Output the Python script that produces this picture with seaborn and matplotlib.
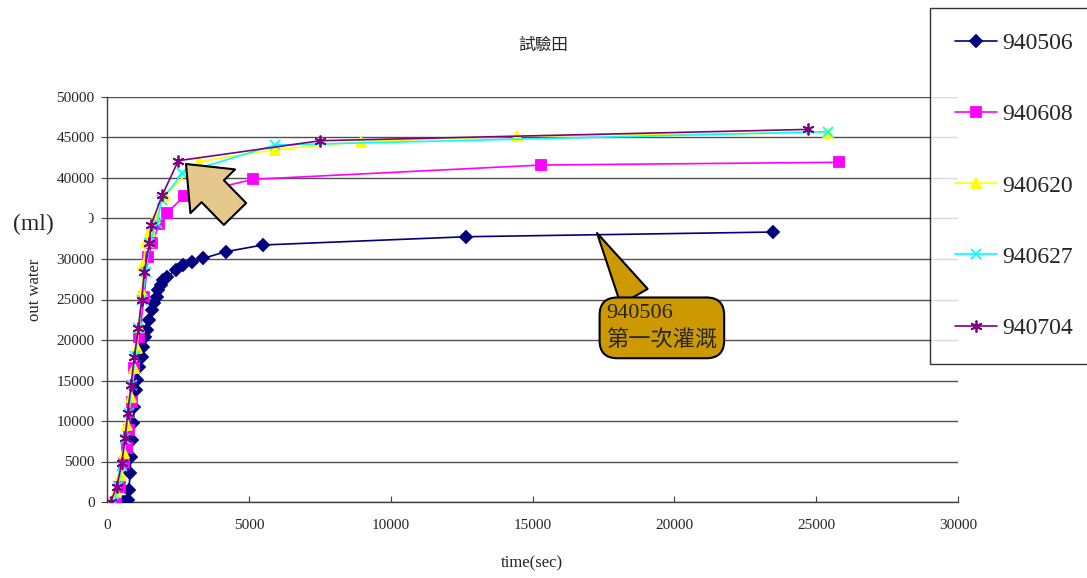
import matplotlib
matplotlib.use("Agg")
import matplotlib.pyplot as plt
import seaborn as sns
from matplotlib.patches import Rectangle

# irrigation runs (date labels) and their cumulative outflow
dates = ["940506", "940608", "940620", "940627", "940704"]

t_0506 = [560, 650, 730, 776, 811, 846, 881, 928, 963, 1011, 1058, 1128, 1222, 1280, 1340,
          1421, 1492, 1575, 1657, 1751, 1810, 1892, 1986, 2104, 2432, 2690, 2985, 3395,
          4183, 5490, 12670, 23480]
w_0506 = [0, 0, 200, 1480, 3540, 5600, 7650, 9710, 11770, 13830, 15060, 16700, 17940, 19180,
          20410, 21230, 22470, 23700, 24530, 25350, 26170, 26790, 27400, 27820, 28640,
          29260, 29590, 30080, 30900, 31730, 32750, 33330]

t_0608 = [330, 470, 590, 690, 776, 871, 963, 1140, 1305, 1457, 1598, 1833, 2127, 2725,
          5147, 15300, 25810]
w_0608 = [0, 1800, 4800, 6700, 8890, 12380, 16500, 20410, 25350, 30290, 31940, 34280,
          35720, 37780, 39840, 41600, 41940]

t_0620 = [180, 330, 480, 600, 720, 840, 950, 1046, 1128, 1222, 1280, 1364, 1520, 1692,
          2045, 3230, 5920, 8937, 14440, 25400]
w_0620 = [0, 1200, 3300, 6000, 9500, 13000, 16500, 19000, 21640, 25970, 29260, 32140,
          33500, 35020, 37900, 42010, 43500, 44480, 45190, 45600]

t_0627 = [250, 400, 520, 640, 760, 880, 990, 1105, 1222, 1375, 1492, 1751, 1927, 2655,
          5915, 25400]
w_0627 = [0, 2000, 4500, 7800, 11000, 14500, 18000, 21500, 24940, 28430, 31940, 34400,
          37280, 40580, 44070, 45720]

t_0704 = [130, 341, 517, 635, 728, 846, 963, 1105, 1222, 1316, 1492, 1551, 1950, 2515,
          7510, 24710]
w_0704 = [0, 1890, 4770, 7860, 10950, 14440, 17940, 21440, 24940, 28430, 31940, 34200,
          37900, 42140, 44600, 46000]

times = [t_0506, t_0608, t_0620, t_0627, t_0704]
water = [w_0506, w_0608, w_0620, w_0627, w_0704]
colors = ["#000080", "#FF00FF", "#FFFF00", "#00FFFF", "#800080"]
markers = ["D", "s", "^", "x", (6, 2, 0)]
msizes = [6, 6.5, 7.5, 7.5, 8.5]

sns.set_style("white")
plt.rcParams["font.family"] = ["Liberation Serif", "Noto Sans CJK TC"]

fig = plt.figure(figsize=(10.87, 5.78), dpi=100)
ax = fig.add_axes([107 / 1087, 1 - 502 / 578, (958 - 107) / 1087, (502 - 97) / 578])

for d, t, w, c, m, s in zip(dates, times, water, colors, markers, msizes):
    sns.lineplot(x=t, y=w, ax=ax, color=c, marker=m, markersize=s, markeredgecolor=c,
                 markerfacecolor=c, markeredgewidth=1.3, linewidth=1.2, sort=False,
                 label=d, zorder=3)

ax.set_xlim(0, 30000)
ax.set_ylim(0, 50000)
ax.set_xticks(range(0, 30001, 5000))
ax.set_yticks(range(0, 50001, 5000))
ax.grid(axis="y", color="#505050", linewidth=1)
ax.set_axisbelow(True)
for sp in ["top", "right"]:
    ax.spines[sp].set_visible(False)
for sp in ["left", "bottom"]:
    ax.spines[sp].set_color("#404040")
    ax.spines[sp].set_linewidth(1)
ax.tick_params(axis="y", which="both", left=True, direction="out", length=4, labelsize=11,
               pad=5, color="#404040")
ax.tick_params(axis="x", which="both", bottom=True, direction="in", length=4, labelsize=11,
               pad=12, color="#404040")
ax.set_xlabel("")
ax.set_ylabel("")

# legend box outside the plot, on the right
ax.legend(loc="upper left", bbox_to_anchor=(930 / 1087, 1 - 8 / 578),
          bbox_transform=fig.transFigure, frameon=True, fancybox=False,
          edgecolor="black", fontsize=17, labelspacing=2.1, borderpad=1.05,
          handlelength=1.8, handletextpad=0.2, borderaxespad=0)
ax.get_legend().get_frame().set_linewidth(1.0)

# titles
fig.text(543 / 1087, 1 - 45 / 578, "試驗田", ha="center", va="center", fontsize=12,
         family=["Noto Sans CJK TC"])
fig.text(532 / 1087, 1 - 563 / 578, "time(sec)", ha="center", va="center", fontsize=12)
fig.text(35 / 1087, 1 - 290 / 578, "out water", ha="center", va="center", rotation=90,
         fontsize=12)

# (ml) label box, partly covering the 35000 tick label
fig.patches.append(Rectangle((8 / 1087, 1 - 238 / 578), 81 / 1087, 30 / 578,
                             transform=fig.transFigure, facecolor="white",
                             edgecolor="none", zorder=5))
fig.text(33 / 1087, 1 - 224 / 578, "(ml)", ha="center", va="center", fontsize=17,
         zorder=6)

# block arrow pointing at the knee of the curves
ax.annotate("", xy=(2785, 41730), xytext=(4512, 35556),
            arrowprops=dict(arrowstyle="simple,head_length=1.1,head_width=1.8,tail_width=0.9",
                            fc="#E5C98C", ec="black", lw=1.5, mutation_scale=25,
                            shrinkA=0, shrinkB=0), zorder=6)

# callout for the first irrigation
ax.annotate("940506\n第一次灌溉", xy=(17274, 33210), xytext=(17600, 21500),
            ha="left", va="center", fontsize=16, linespacing=1.45,
            family=["Liberation Serif", "Noto Sans CJK TC"],
            bbox=dict(boxstyle="round,pad=0.3,rounding_size=0.8", fc="#CC9900",
                      ec="black", lw=1.5),
            arrowprops=dict(arrowstyle="wedge,tail_width=1.4,shrink_factor=0.5",
                            fc="#CC9900", ec="black", lw=1.5, relpos=(0.29, 1.0),
                            shrinkA=0, shrinkB=0), zorder=6)

fig.savefig("out.png", dpi=100)
